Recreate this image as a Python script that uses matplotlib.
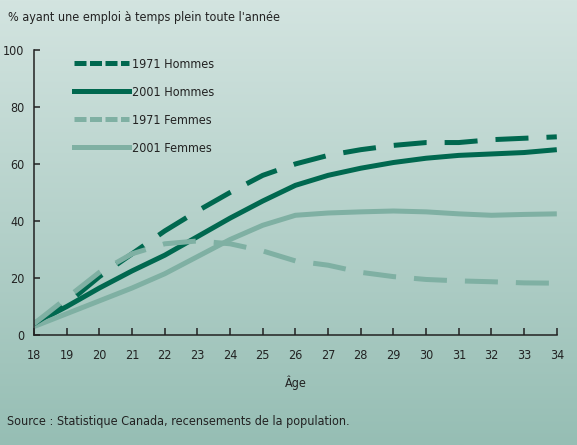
import numpy as np
import matplotlib
matplotlib.use("Agg")
import matplotlib.pyplot as plt
from matplotlib.lines import Line2D

# -----------------------------
# Data
# -----------------------------
ages = [18, 19, 20, 21, 22, 23, 24, 25, 26, 27, 28, 29, 30, 31, 32, 33, 34]
hommes_1971 = [4, 11, 20.5, 28.5, 36.5, 43.5, 50, 56, 60, 63, 65, 66.5, 67.5, 67.5, 68.5, 69, 69.5]
hommes_2001 = [4, 10, 16.5, 22.5, 28, 34.5, 41, 47, 52.5, 56, 58.5, 60.5, 62, 63, 63.5, 64, 65]
femmes_1971 = [4, 13, 22, 28.5, 32, 33, 32, 29.5, 26, 24.5, 22, 20.5, 19.5, 19, 18.7, 18.3, 18.2]
femmes_2001 = [3, 7.5, 12, 16.5, 21.5, 27.5, 33.5, 38.5, 42, 42.8, 43.2, 43.5, 43.2, 42.5, 42, 42.3, 42.5]

labels = ["1971 Hommes", "2001 Hommes", "1971 Femmes", "2001 Femmes"]
y_ticks = [0, 20, 40, 60, 80, 100]

dark = "#00684f"
light = "#7fb0a3"
ink = "#222222"

plt.rcParams["font.family"] = ["DejaVu Sans"]
plt.rcParams["font.stretch"] = "condensed"

fig = plt.figure(figsize=(5.77, 4.45), dpi=100)

# background gradient
bg = fig.add_axes([0, 0, 1, 1], zorder=-1)
grad = np.linspace(0, 1, 256).reshape(-1, 1)
top = np.array([211, 228, 224]) / 255
bottom = np.array([150, 190, 180]) / 255
img = top + (bottom - top) * grad[:, :, None]
bg.imshow(img, aspect="auto", extent=[0, 1, 0, 1])
bg.axis("off")

ax = fig.add_axes([0.059, 0.247, 0.906, 0.641])
ax.patch.set_alpha(0)

lw = 3.6
dash = (0, (6.6, 3.6))
ax.plot(ages, hommes_2001, color=dark, lw=lw, solid_capstyle="butt")
ax.plot(ages, femmes_2001, color=light, lw=lw, solid_capstyle="butt")
ax.plot(ages, hommes_1971, color=dark, lw=lw, linestyle=dash, dash_capstyle="butt")
ax.plot(ages, femmes_1971, color=light, lw=lw, linestyle=dash, dash_capstyle="butt")

ax.set_xlim(18, 34)
ax.set_ylim(0, 100)
ax.set_xticks(ages)
ax.set_yticks(y_ticks)
for s in ["top", "right"]:
    ax.spines[s].set_visible(False)
for s in ["left", "bottom"]:
    ax.spines[s].set_linewidth(1.1)
    ax.spines[s].set_color(ink)
ax.tick_params(axis="y", direction="in", length=4, width=1.1, pad=7, labelsize=9, colors=ink)
ax.tick_params(axis="x", direction="in", length=5, width=1.1, pad=10, labelsize=9, colors=ink)
ax.set_xlabel("Âge", fontsize=9, labelpad=10, color=ink)

leg_dash = (0, (2.4, 0.7))
handles = [
    Line2D([], [], color=dark, lw=lw, linestyle=leg_dash),
    Line2D([], [], color=dark, lw=lw),
    Line2D([], [], color=light, lw=lw, linestyle=leg_dash),
    Line2D([], [], color=light, lw=lw),
]
leg = ax.legend(handles, labels, loc="upper left", bbox_to_anchor=(0.066, 0.99),
                frameon=False, fontsize=9, handlelength=4.4, handletextpad=0.25,
                labelspacing=1.2, borderaxespad=0)
for t in leg.get_texts():
    t.set_color(ink)

fig.text(0.014, 0.96, "% ayant une emploi à temps plein toute l'année",
         fontsize=9, color=ink, va="center")
fig.text(0.012, 0.052, "Source : Statistique Canada, recensements de la population.",
         fontsize=9, color=ink, va="center")

fig.savefig("out.png", dpi=100)
